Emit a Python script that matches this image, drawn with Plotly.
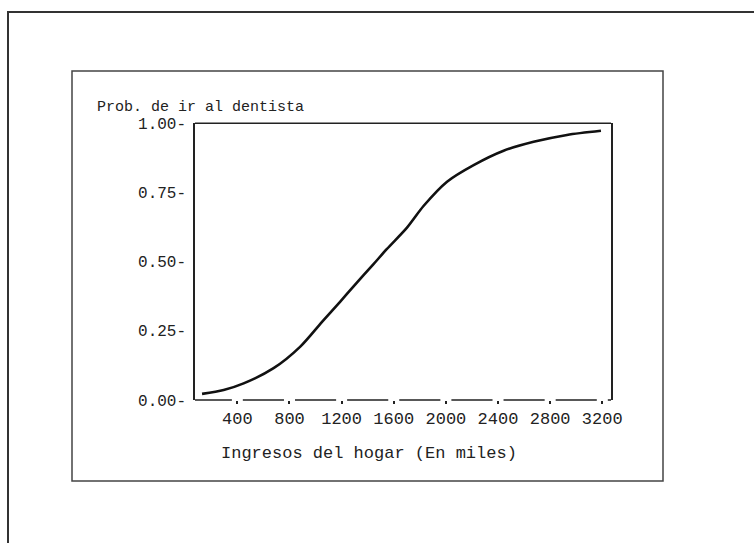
import plotly.graph_objects as go

# Data
ingresos = [129, 295, 448, 678, 883, 1060, 1188, 1290, 1443, 1546, 1700,
            1830, 2009, 2213, 2443, 2673, 2929, 3190]
prob = [0.022, 0.036, 0.060, 0.115, 0.193, 0.288, 0.355, 0.410, 0.490,
        0.545, 0.622, 0.702, 0.789, 0.849, 0.901, 0.933, 0.958, 0.973]

x_ticks = [400, 800, 1200, 1600, 2000, 2400, 2800, 3200]
y_ticks = [0.0, 0.25, 0.50, 0.75, 1.00]
y_ticktext = ["0.00-", "0.25-", "0.50-", "0.75-", "1.00-"]

y_title = "Prob. de ir al dentista"
x_title = "Ingresos del hogar (En miles)"

W, H = 754, 543
FONT = "Liberation Mono, Courier New, monospace"
INK = "#222222"


def px(x):
    return x / W


def py(y):
    return 1 - y / H


x_range = [75, 3267]

fig = go.Figure()
fig.add_trace(go.Scatter(
    x=ingresos, y=prob, mode="lines",
    line=dict(color="#111111", width=2.6, shape="spline", smoothing=0.8),
    showlegend=False, hoverinfo="skip",
))

shapes = [
    # outer frame (extends past the right and bottom edges)
    dict(type="rect", xref="paper", yref="paper",
         x0=px(8), x1=px(770), y0=py(560), y1=py(12),
         line=dict(color="#333333", width=2)),
    # inner frame
    dict(type="rect", xref="paper", yref="paper",
         x0=px(72), x1=px(663), y0=py(481), y1=py(71),
         line=dict(color="#444444", width=1.5)),
    # top border of the plot box
    dict(type="line", xref="x domain", yref="y domain",
         x0=0, x1=1, y0=1, y1=1, line=dict(color=INK, width=1.5)),
    # bottom axis drawn as broken line with gaps at the ticks
    dict(type="line", xref="x", yref="y domain",
         x0=x_range[0], x1=358, y0=0, y1=0, line=dict(color=INK, width=1.5)),
    dict(type="line", xref="x", yref="y domain",
         x0=442, x1=x_range[1], y0=0, y1=0,
         line=dict(color=INK, width=1.5, dash="41.14px,11px")),
]

annotations = [
    dict(text=y_title, xref="paper", yref="paper", x=px(95), y=py(107),
         xanchor="left", yanchor="middle", showarrow=False,
         font=dict(family=FONT, size=15, color=INK)),
    dict(text=x_title, xref="paper", yref="paper", x=px(369), y=py(453),
         xanchor="center", yanchor="middle", showarrow=False,
         font=dict(family=FONT, size=17, color=INK)),
]

fig.update_layout(
    width=W, height=H,
    margin=dict(l=0, r=0, t=0, b=0, pad=0, autoexpand=False),
    paper_bgcolor="white", plot_bgcolor="white",
    showlegend=False,
    shapes=shapes, annotations=annotations,
    xaxis=dict(
        domain=[px(195), px(611)], range=x_range,
        tickvals=x_ticks, ticktext=[str(v) for v in x_ticks],
        ticks="outside", ticklen=3, tickwidth=2, tickcolor=INK,
        showline=False, showgrid=False, zeroline=False,
        tickfont=dict(family=FONT, size=17, color=INK),
        fixedrange=True, automargin=False,
    ),
    yaxis=dict(
        domain=[py(400), py(123.3)], range=[0, 1],
        tickvals=y_ticks, ticktext=y_ticktext,
        ticks="", ticklabelstandoff=4,
        showline=True, mirror=True, linecolor=INK, linewidth=1.5,
        showgrid=False, zeroline=False,
        tickfont=dict(family=FONT, size=16, color=INK),
        fixedrange=True, automargin=False,
    ),
)

fig.write_html(
    "out.html",
    config={"displayModeBar": False},
    post_script="document.documentElement.style.margin='0';"
                "document.body.style.margin='0';"
                "document.body.style.overflow='hidden';",
)
